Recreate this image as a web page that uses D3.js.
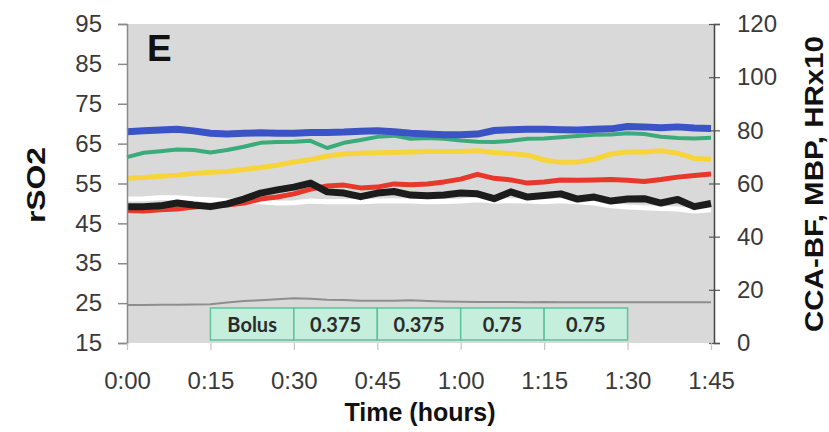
<!DOCTYPE html>
<html>
<head>
<meta charset="utf-8">
<script src="https://cdn.jsdelivr.net/npm/d3@7"></script>
<style>
  body { margin: 0; background: #fff; }
  svg { display: block; }
  text { font-family: "Liberation Sans", Arial, sans-serif; }
</style>
</head>
<body>
<script>
// time in minutes
const minutes = [0, 3, 6, 9, 12, 15, 18, 21, 24, 27, 30, 33, 36, 39, 42, 45, 48, 51,
  54, 57, 60, 63, 66, 69, 72, 75, 78, 81, 84, 87, 90, 93, 96, 99, 102, 105];

// series (left axis units, gray on right axis)
const blueVals = [68.0, 68.2, 68.4, 68.6, 68.2, 67.6, 67.4, 67.6, 67.7, 67.6, 67.6, 67.8,
  67.8, 67.9, 68.1, 68.2, 68.0, 67.6, 67.4, 67.2, 67.2, 67.4, 68.3, 68.5, 68.6, 68.6,
  68.5, 68.4, 68.6, 68.7, 69.3, 69.2, 69.0, 69.2, 68.9, 68.8];
const greenVals = [61.6, 62.7, 63.1, 63.5, 63.4, 62.8, 63.4, 64.2, 65.2, 65.4, 65.5, 65.7,
  63.9, 65.2, 65.9, 66.7, 67.0, 66.2, 66.4, 66.2, 65.8, 65.5, 65.4, 65.7, 66.2, 66.3,
  66.6, 66.9, 67.2, 67.3, 67.6, 67.4, 66.7, 66.4, 66.3, 66.5];
const yellowVals = [56.3, 56.5, 56.8, 57.1, 57.5, 57.8, 58.0, 58.5, 59.0, 59.6, 60.4, 61.0,
  61.9, 62.4, 62.6, 62.7, 62.8, 62.9, 63.0, 63.0, 63.0, 63.2, 62.8, 62.5, 62.1, 60.9,
  60.3, 60.4, 61.1, 62.4, 62.9, 62.9, 63.2, 62.6, 61.3, 61.1];
const redVals = [48.2, 48.1, 48.4, 48.6, 49.1, 49.4, 49.6, 50.1, 51.1, 51.6, 52.4, 53.6,
  54.4, 54.6, 53.9, 54.1, 54.9, 54.7, 54.9, 55.4, 56.1, 57.3, 56.3, 55.9, 55.1, 55.4,
  55.9, 55.8, 55.9, 56.0, 55.8, 55.5, 56.0, 56.6, 57.0, 57.4];
const blackVals = [49.2, 49.2, 49.4, 50.1, 49.6, 49.2, 49.9, 51.1, 52.6, 53.4, 54.1, 55.1,
  52.9, 52.6, 51.7, 52.6, 53.0, 52.1, 51.9, 52.1, 52.6, 52.4, 51.2, 52.9, 51.6, 52.0,
  52.4, 51.1, 51.6, 50.6, 51.1, 51.2, 50.1, 51.0, 49.2, 50.0];
const whiteVals = [51.1, 51.2, 51.4, 51.4, 51.1, 50.9, 50.7, 50.6, 50.4, 50.1, 50.2, 50.6,
  50.4, 50.5, 50.4, 50.6, 50.7, 50.6, 50.4, 50.5, 50.6, 50.9, 50.6, 50.7, 50.6, 50.4,
  50.7, 50.4, 50.1, 49.4, 49.1, 48.9, 48.7, 48.6, 48.1, 48.4];
const grayVals = [14.3, 14.3, 14.4, 14.4, 14.5, 14.6, 15.2, 15.8, 16.1, 16.5, 16.8, 16.6,
  16.3, 16.2, 15.9, 15.9, 15.9, 16.1, 15.8, 15.6, 15.5, 15.4, 15.4, 15.4, 15.3, 15.4,
  15.3, 15.3, 15.3, 15.3, 15.3, 15.3, 15.3, 15.3, 15.3, 15.3];

// ticks
const leftTicks = [15, 25, 35, 45, 55, 65, 75, 85, 95];
const rightTicks = [0, 20, 40, 60, 80, 100, 120];
const timeTicks = [0, 15, 30, 45, 60, 75, 90, 105];
const timeLabels = ['0:00', '0:15', '0:30', '0:45', '1:00', '1:15', '1:30', '1:45'];

// dose boxes
const doseStarts = [15, 30, 45, 60, 75];
const doseLabels = ['Bolus', '0.375', '0.375', '0.75', '0.75'];
const doseLength = 15;

let dim = { width: 829, height: 432 };
let svg = d3.select('body').append('svg').attr('width', dim.width).attr('height', dim.height);

let x = d3.scaleLinear().domain([0, 105]).range([127, 711]);
let yL = d3.scaleLinear().domain([15, 95]).range([343, 24]);
let yR = d3.scaleLinear().domain([0, 120]).range([343, 24]);

// plot background
svg.append('rect')
  .attr('x', 127).attr('y', 24)
  .attr('width', 587).attr('height', 319)
  .attr('fill', '#d9d9d9');

// lines
let lineL = d3.line().x((d, i) => x(minutes[i])).y((d) => yL(d));
let lineR = d3.line().x((d, i) => x(minutes[i])).y((d) => yR(d));

svg.append('path').datum(grayVals).attr('d', lineR)
  .attr('fill', 'none').attr('stroke', '#8e8e8e').attr('stroke-width', 2);

let series = [
  { vals: whiteVals, color: '#ffffff', w: 5 },
  { vals: redVals, color: '#e8372b', w: 5 },
  { vals: blackVals, color: '#1c1c1c', w: 7 },
  { vals: yellowVals, color: '#f6d43a', w: 5 },
  { vals: greenVals, color: '#3bab7c', w: 4 },
  { vals: blueVals, color: '#3a53c6', w: 7 },
];
series.forEach((s) => {
  svg.append('path').datum(s.vals).attr('d', lineL)
    .attr('fill', 'none').attr('stroke', s.color)
    .attr('stroke-width', s.w).attr('stroke-linejoin', 'round');
});

// dose boxes
let boxes = svg.append('g');
boxes.selectAll('rect').data(doseStarts).enter().append('rect')
  .attr('x', (d) => x(d))
  .attr('y', 308)
  .attr('width', (d) => x(d + doseLength) - x(d))
  .attr('height', 32)
  .attr('fill', '#c6eedc')
  .attr('stroke', '#5cc39a')
  .attr('stroke-width', 1.5);
boxes.selectAll('text').data(doseStarts).enter().append('text')
  .attr('x', (d) => x(d + doseLength / 2))
  .attr('y', 332)
  .attr('text-anchor', 'middle')
  .style('font-family', 'Lato, "Open Sans", sans-serif')
  .style('font-weight', 'bold')
  .style('font-size', '20px')
  .attr('fill', '#2b2b2b')
  .text((d, i) => doseLabels[i]);

// axes
let axisL = d3.axisLeft(yL).tickValues(leftTicks).tickSize(9).tickPadding(16);
let gL = svg.append('g').attr('transform', 'translate(127,0)').call(axisL);
gL.select('.domain').attr('stroke', '#8a8a8a').attr('stroke-width', 1.5);
gL.selectAll('.tick line').attr('stroke', '#8a8a8a').attr('stroke-width', 1.5);
gL.selectAll('text').style('font-size', '24px').attr('fill', '#3a3a3a');

let axisR = d3.axisRight(yR).tickValues(rightTicks).tickSize(6).tickPadding(17);
let gR = svg.append('g').attr('transform', 'translate(714,0)').call(axisR);
gR.select('.domain').attr('stroke', '#444').attr('stroke-width', 1.5);
gR.selectAll('.tick line').attr('x1', -5).attr('stroke', '#555').attr('stroke-width', 1.2);
gR.selectAll('text').style('font-size', '24px').attr('fill', '#3a3a3a');

let axisX = d3.axisBottom(x).tickValues(timeTicks)
  .tickFormat((d, i) => timeLabels[i]).tickSize(7).tickPadding(22);
let gX = svg.append('g').attr('transform', 'translate(0,343)').call(axisX);
gX.select('.domain').remove();
gX.selectAll('.tick line').attr('stroke', '#c4c4c4').attr('stroke-width', 1.2);
gX.selectAll('text').style('font-size', '24px').attr('fill', '#3a3a3a');

// titles
svg.append('text')
  .attr('x', 420).attr('y', 421)
  .attr('text-anchor', 'middle')
  .style('font-size', '25px').style('font-weight', 'bold')
  .attr('fill', '#111')
  .text('Time (hours)');

svg.append('text')
  .attr('transform', 'translate(45,185) rotate(-90)')
  .attr('text-anchor', 'middle')
  .attr('textLength', 76).attr('lengthAdjust', 'spacingAndGlyphs')
  .style('font-size', '26px').style('font-weight', 'bold')
  .attr('fill', '#111')
  .text('rSO2');

svg.append('text')
  .attr('transform', 'translate(823,184) rotate(-90)')
  .attr('text-anchor', 'middle')
  .attr('textLength', 296).attr('lengthAdjust', 'spacingAndGlyphs')
  .style('font-size', '25px').style('font-weight', 'bold')
  .attr('fill', '#111')
  .text('CCA-BF, MBP, HRx10');

// panel letter
svg.append('text')
  .attr('x', 147).attr('y', 61)
  .style('font-size', '37px').style('font-weight', 'bold')
  .attr('fill', '#111')
  .text('E');
</script>
</body>
</html>
